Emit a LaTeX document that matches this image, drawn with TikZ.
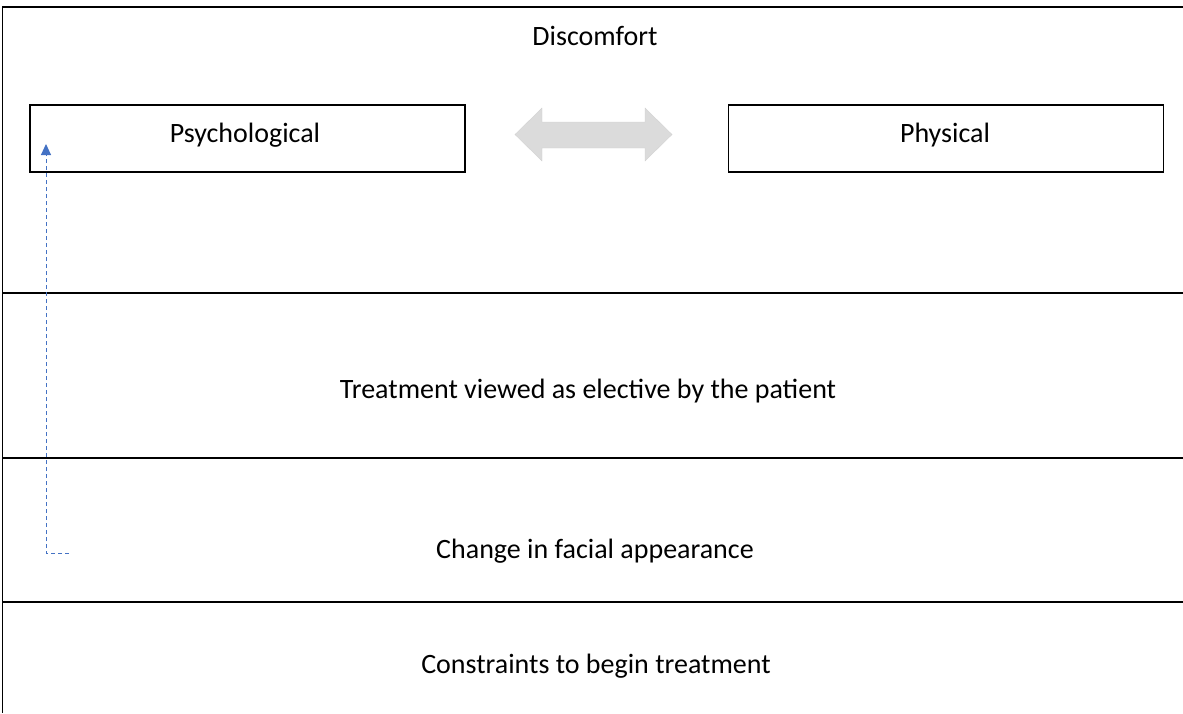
\documentclass[tikz,border=0pt]{standalone}
\usepackage{fontspec}
\setmainfont{Carlito}
\usetikzlibrary{arrows.meta,positioning}
\definecolor{linkblue}{RGB}{68,114,196}

\begin{document}
\begin{tikzpicture}[x=1pt,y=-1pt,
  lbl/.style={anchor=base,font=\fontsize{28}{32}\selectfont},
  topbox/.style={draw,line width=1.2pt,minimum width=435pt,minimum height=67pt},
  band/.style={line width=1.2pt}]
\useasboundingbox (0,0) rectangle (1183,713);

% frame and bands
\draw[band] (1183,7) -- (2.5,7) -- (2.5,713);
\draw[band] (2,293) -- (1183,293);%
\draw[band] (2,458) -- (1183,458);%
\draw[band] (2,602) -- (1183,602);%

\node[lbl] (disc) at (595,45) {Discomfort};
\node[topbox] (psych) at (247.5,138.5) {};
\node[topbox] (phys) at (946,138.5) {};
\node[lbl] (psychtxt) at (245,142.5) {Psychological};
\node[lbl] (phystxt) at (945,142.5) {Physical};

% two-way arrow between the boxes
\fill[gray!28,draw=gray!35] (515,134.5) -- (542,108) -- (542,122) -- (645,122) -- (645,108)
  -- (672,134.5) -- (645,161) -- (645,148) -- (542,148) -- (542,161) -- cycle;

\node[lbl] (elect) at (588,398) {Treatment viewed as elective by the patient};
\node[lbl] (face) at (595,558) {Change in facial appearance};
\node[lbl] (constr) at (596,673) {Constraints to begin treatment};

\coordinate (dstart) at (69,553);
\coordinate (dtip) at (46,144);
\draw[linkblue,line width=1pt,dash pattern=on 4pt off 3pt,-{Triangle[length=11pt,width=10pt]}]
  (dstart) -- (46,553) -- (dtip);
\end{tikzpicture}
\end{document}
